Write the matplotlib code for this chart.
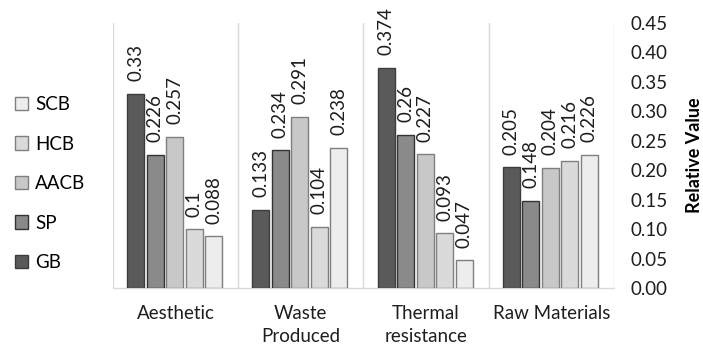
import matplotlib
matplotlib.use("Agg")
import matplotlib.pyplot as plt
import numpy as np
from matplotlib.patches import Patch

plt.rcParams['font.family'] = ['Lato', 'DejaVu Sans']

categories = ["Aesthetic", "Waste\nProduced", "Thermal\nresistance", "Raw Materials"]
series = ["GB", "SP", "AACB", "HCB", "SCB"]
values = {
    "GB":   [0.33, 0.133, 0.374, 0.205],
    "SP":   [0.226, 0.234, 0.26, 0.148],
    "AACB": [0.257, 0.291, 0.227, 0.204],
    "HCB":  [0.1, 0.104, 0.093, 0.216],
    "SCB":  [0.088, 0.238, 0.047, 0.226],
}
yticks = [0.00, 0.05, 0.10, 0.15, 0.20, 0.25, 0.30, 0.35, 0.40, 0.45]

fills = {"GB": "#5a5a5a", "SP": "#8a8a8a", "AACB": "#c8c8c8", "HCB": "#dadada", "SCB": "#ededed"}
edges = {"GB": "#3c3c3c", "SP": "#333333", "AACB": "#7f7f7f", "HCB": "#7f7f7f", "SCB": "#7f7f7f"}

FS = 13.5
TXT = "#1e1e1e"

fig = plt.figure(figsize=(7.03, 3.53), dpi=100)
ax = fig.add_axes([0.1607, 0.1841, 0.7127, 0.7507])

x = np.arange(len(categories))
step = 0.156
width = 0.136
for i, s in enumerate(series):
    off = (i - 2) * step - 0.008
    bars = ax.bar(x + off, values[s], width=width, color=fills[s],
                  edgecolor=edges[s], linewidth=1.0, zorder=3)
    for b, v in zip(bars, values[s]):
        ax.annotate(f"{v:g}", (b.get_x() + b.get_width() / 2, v),
                    xytext=(0, 9), textcoords="offset points",
                    rotation=90, ha="center", va="bottom",
                    fontsize=FS, color=TXT, annotation_clip=False)

ax.set_xlim(-0.5, 3.5)
ax.set_ylim(0, 0.45)

# group separators
for sx in np.arange(-0.5, 4.0, 1.0):
    ax.axvline(sx, color="#d9d9d9", linewidth=1.0, zorder=1)

for sp in ["top", "left", "right"]:
    ax.spines[sp].set_visible(False)
ax.spines["bottom"].set_color("#d9d9d9")
ax.spines["bottom"].set_linewidth(1.0)

ax.yaxis.tick_right()
ax.yaxis.set_label_position("right")
ax.set_yticks(yticks)
ax.set_yticklabels([f"{t:.2f}" for t in yticks], fontsize=FS, color=TXT)
ax.tick_params(axis="y", length=0, pad=12)
ax.set_ylabel("Relative Value", fontsize=FS - 0.5, fontweight="bold", labelpad=13)

ax.set_xticks(x)
ax.set_xticklabels(categories, fontsize=FS, color=TXT, linespacing=1.45)
ax.tick_params(axis="x", length=0, pad=12)

handles = [Patch(facecolor=fills[s], edgecolor=edges[s], label=s) for s in reversed(series)]
fig.legend(handles=handles, loc="center left", bbox_to_anchor=(0.011, 0.48),
           frameon=False, fontsize=FS, handlelength=0.7, handleheight=0.7,
           handletextpad=0.35, labelspacing=1.2, borderpad=0.2, borderaxespad=0.2)

fig.savefig("out.png", dpi=100)
